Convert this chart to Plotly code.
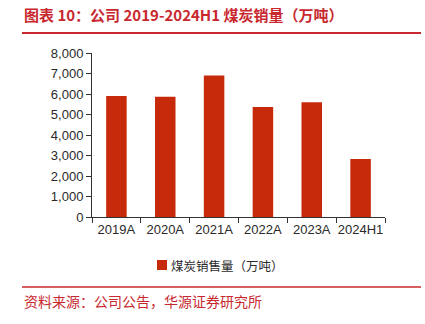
import plotly.graph_objects as go

# Coal sales volume by period (10k tonnes)
categories = ["2019A", "2020A", "2021A", "2022A", "2023A", "2024H1"]
coal_sales = [5900, 5870, 6900, 5360, 5600, 2830]
y_ticks = [0, 1000, 2000, 3000, 4000, 5000, 6000, 7000, 8000]
y_tick_text = ["0", "1,000", "2,000", "3,000", "4,000", "5,000", "6,000", "7,000", "8,000"]
series_name = "煤炭销售量（万吨）"

W, H = 425, 324
L, R, T, B = 92, 40, 53, 107
PW, PH = W - L - R, H - T - B

def px(x):
    return (x - L) / PW

def py(y):
    return (H - B - y) / PH

RED = "#C8282E"
BAR = "#C62A0B"
CJK = "Noto Sans CJK SC"
LAT = "Liberation Sans, Arial, sans-serif"

fig = go.Figure()
fig.add_trace(go.Bar(
    x=categories, y=coal_sales, name=series_name,
    marker=dict(color=BAR, line=dict(width=0)),
    width=0.42, showlegend=False,
))

fig.update_layout(
    width=W, height=H,
    margin=dict(l=L, r=R, t=T, b=B),
    paper_bgcolor="white", plot_bgcolor="white",
    font=dict(family=LAT, size=13, color="#333333"),
    xaxis=dict(
        showline=True, linecolor="#333333", linewidth=1,
        ticks="outside", tickson="boundaries", ticklen=5, tickcolor="#333333",
        tickangle=0,
        tickfont=dict(family=LAT, size=13, color="#2a2a2a"),
        showgrid=False, zeroline=False,
    ),
    yaxis=dict(
        range=[0, 8000], tickvals=y_ticks, ticktext=y_tick_text,
        showline=True, linecolor="#333333", linewidth=1,
        ticks="outside", ticklen=5, tickcolor="#333333",
        tickfont=dict(family=LAT, size=13, color="#2a2a2a"),
        showgrid=False, zeroline=False,
    ),
    shapes=[
        dict(type="line", xref="paper", yref="paper",
             x0=px(22), x1=px(421), y0=py(33), y1=py(33),
             line=dict(color=RED, width=2)),
        dict(type="line", xref="paper", yref="paper",
             x0=px(22), x1=px(421), y0=py(287), y1=py(287),
             line=dict(color=RED, width=1.5)),
        # legend swatch
        dict(type="rect", xref="paper", yref="paper",
             x0=px(157), x1=px(167), y0=py(270), y1=py(260),
             fillcolor=BAR, line=dict(width=0)),
    ],
    annotations=[
        dict(text="<b>图表 10：公司 2019-2024H1 煤炭销量（万吨）</b>",
             xref="paper", yref="paper", x=px(22), y=py(14),
             xanchor="left", yanchor="middle", showarrow=False,
             font=dict(family=CJK, size=15, color=RED)),
        dict(text=series_name,
             xref="paper", yref="paper", x=px(169), y=py(265),
             xanchor="left", yanchor="middle", showarrow=False,
             font=dict(family=CJK, size=12.5, color="#2a2a2a")),
        dict(text="资料来源：公司公告，华源证券研究所",
             xref="paper", yref="paper", x=px(22), y=py(301),
             xanchor="left", yanchor="middle", showarrow=False,
             font=dict(family=CJK, size=14, color=RED)),
    ],
)

fig.write_html("out.html")
